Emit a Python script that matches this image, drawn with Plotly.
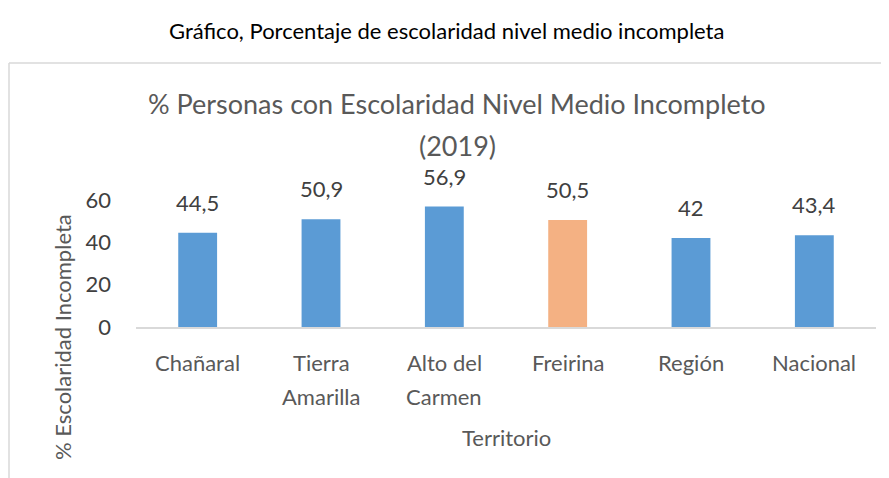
import plotly.graph_objects as go

# datos
territorios = ["Chañaral", "Tierra Amarilla", "Alto del Carmen", "Freirina", "Región", "Nacional"]
lineas_1 = ["Chañaral", "Tierra", "Alto del", "Freirina", "Región", "Nacional"]
lineas_2 = ["", "Amarilla", "Carmen", "", "", ""]
porcentajes = [44.5, 50.9, 56.9, 50.5, 42, 43.4]
etiquetas = ["44,5", "50,9", "56,9", "50,5", "42", "43,4"]
colores = ["#5B9BD5", "#5B9BD5", "#5B9BD5", "#F4B183", "#5B9BD5", "#5B9BD5"]
y_ticks = [0, 20, 40, 60]

# la pagina tiene 8px de margen en el body
OFF = 8
W, H = 889 - OFF, 478 - OFF
L, R, T, B = 136 - OFF, 13, 200 - OFF, 151
pw, ph = W - L - R, H - T - B

def px_x(x):
    return (x - OFF - L) / pw

def px_y(y):
    return (T + ph - (y - OFF)) / ph

FONT = "Lato"
GRIS = "#595959"
TXT = "#404040"

fig = go.Figure()
fig.add_trace(go.Bar(
    x=territorios, y=porcentajes,
    marker=dict(color=colores, line=dict(width=0)),
    width=0.315,
    hoverinfo="skip",
))

def nota(x, y, text, size, color, xref="paper", yref="paper", angle=0, yshift=0, yanchor="middle"):
    fig.add_annotation(xref=xref, yref=yref, x=x, y=y, text=text, showarrow=False,
                       xanchor="center", yanchor=yanchor, textangle=angle, yshift=yshift,
                       font=dict(family=FONT, size=size, color=color))

for t, v, lab in zip(territorios, porcentajes, etiquetas):
    nota(t, v, lab, 22, TXT, xref="x", yref="y", yshift=15, yanchor="bottom")

# etiquetas del eje x en dos lineas
for t, l1, l2 in zip(territorios, lineas_1, lineas_2):
    nota(t, px_y(362), l1, 22, GRIS, xref="x")
    if l2:
        nota(t, px_y(396), l2, 22, GRIS, xref="x")

# titulo exterior
nota(px_x(446), px_y(30), "Gráfico, Porcentaje de escolaridad nivel medio incompleta", 22, "#000000")
# titulo del grafico
nota(px_x(457), px_y(103), "% Personas con Escolaridad Nivel Medio Incompleto", 27, GRIS)
nota(px_x(457), px_y(145), "(2019)", 27, GRIS)
# titulos de ejes
nota(px_x(506), px_y(437), "Territorio", 22, GRIS)
nota(px_x(62), px_y(337), "% Escolaridad Incompleta", 22, GRIS, angle=-90)

# borde del area del grafico
fig.add_shape(type="line", xref="paper", yref="paper",
              x0=px_x(9), y0=px_y(63), x1=px_x(9), y1=px_y(478),
              line=dict(color="#D9D9D9", width=1.5))
fig.add_shape(type="line", xref="paper", yref="paper",
              x0=px_x(9), y0=px_y(63), x1=px_x(889), y1=px_y(63),
              line=dict(color="#D9D9D9", width=1.5))

fig.update_layout(
    width=W, height=H,
    margin=dict(l=L, r=R, t=T, b=B),
    paper_bgcolor="white", plot_bgcolor="white",
    showlegend=False,
    font=dict(family=FONT, size=22, color=TXT),
    xaxis=dict(showgrid=False, showline=True, linecolor="#D9D9D9", linewidth=1.5,
               ticks="", showticklabels=False),
    yaxis=dict(range=[0, 60], tickvals=y_ticks, showgrid=False, showline=False,
               zeroline=False, ticks="", ticklabelstandoff=24,
               tickfont=dict(family=FONT, size=22, color=TXT)),
)

fig.write_html("out.html")
